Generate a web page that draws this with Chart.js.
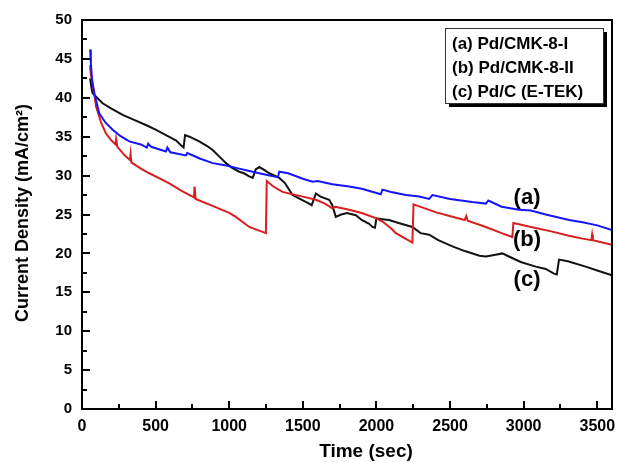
<!DOCTYPE html>
<html lang="en">
<head>
    <meta charset="UTF-8">
    <title>Current Density vs Time</title>
    <script src="https://cdn.jsdelivr.net/npm/chart.js"></script>
    <style>
        body { margin: 0; background: #fff; }
        #chartContainer { width: 617px; height: 462px; }
    </style>
</head>
<body>
    <div id="chartContainer">
        <canvas id="myChart" width="617" height="462"></canvas>
    </div>
    <script>
        // (a) Pd/CMK-8-I
        const timeA = [55, 60, 70, 85, 117, 160, 208, 260, 321, 400, 440, 450, 470, 570, 580, 600, 706, 715, 800, 887, 980, 1068, 1136, 1204, 1250, 1300, 1330, 1340, 1400, 1500, 1566, 1600, 1700, 1815, 1900, 2030, 2040, 2100, 2200, 2290, 2358, 2380, 2500, 2650, 2743, 2760, 2850, 2969, 3050, 3150, 3308, 3400, 3500, 3600];
        const densityA = [46.2, 44.5, 42.0, 40.5, 38.0, 36.8, 35.9, 35.1, 34.4, 34.0, 33.6, 34.1, 33.7, 33.1, 33.6, 33.0, 32.6, 32.9, 32.2, 31.6, 31.3, 30.9, 30.6, 30.3, 30.1, 29.9, 29.8, 30.5, 30.3, 29.6, 29.2, 29.3, 28.9, 28.6, 28.3, 27.6, 28.2, 27.9, 27.5, 27.3, 27.0, 27.5, 27.0, 26.6, 26.4, 26.8, 26.0, 25.6, 25.5, 25.0, 24.3, 24.0, 23.6, 23.0];

        // (b) Pd/CMK-8-II
        const timeB = [55, 60, 72, 95, 130, 163, 200, 228, 232, 240, 290, 325, 330, 335, 400, 457, 530, 593, 680, 760, 765, 772, 887, 1000, 1045, 1136, 1249, 1255, 1300, 1362, 1450, 1500, 1589, 1650, 1700, 1720, 1815, 1900, 2000, 2041, 2100, 2132, 2244, 2252, 2358, 2400, 2516, 2600, 2610, 2620, 2743, 2850, 2923, 2930, 3050, 3195, 3300, 3400, 3460, 3465, 3470, 3600];
        const densityB = [44.2, 43.0, 41.9, 38.9, 36.8, 35.4, 34.5, 34.0, 34.7, 33.7, 32.6, 32.0, 32.8, 31.7, 30.9, 30.3, 29.6, 29.0, 28.0, 27.2, 28.6, 27.0, 26.1, 25.2, 24.7, 23.4, 22.6, 29.3, 28.6, 27.9, 27.5, 27.3, 26.9, 26.4, 25.8, 26.0, 25.6, 25.2, 24.5, 24.1, 23.2, 22.6, 21.4, 26.3, 25.6, 25.3, 24.7, 24.3, 24.8, 24.2, 23.4, 22.6, 22.1, 23.9, 23.4, 22.8, 22.3, 21.9, 21.7, 22.4, 21.7, 21.1];

        // (c) Pd/C (E-TEK)
        const timeC = [55, 65, 72, 140, 200, 276, 350, 434, 500, 570, 640, 672, 690, 700, 730, 796, 850, 887, 930, 978, 1020, 1068, 1100, 1136, 1160, 1180, 1204, 1240, 1272, 1340, 1380, 1430, 1480, 1543, 1560, 1589, 1620, 1679, 1700, 1724, 1760, 1800, 1860, 1900, 1950, 1973, 1990, 2000, 2040, 2086, 2150, 2244, 2300, 2358, 2420, 2516, 2600, 2700, 2743, 2800, 2855, 2900, 2980, 3082, 3150, 3206, 3225, 3240, 3300, 3421, 3500, 3600];
        const densityC = [42.5, 41.2, 40.6, 39.3, 38.6, 37.8, 37.2, 36.5, 35.9, 35.2, 34.5, 33.9, 33.6, 35.2, 35.0, 34.4, 33.8, 33.3, 32.5, 31.6, 31.0, 30.5, 30.3, 29.9, 29.7, 30.8, 31.1, 30.7, 30.3, 29.7, 29.0, 27.5, 27.0, 26.4, 26.2, 27.7, 27.3, 26.9, 26.2, 24.7, 25.0, 25.2, 24.9, 24.3, 23.8, 23.4, 23.3, 24.5, 24.4, 24.3, 23.9, 23.4, 22.6, 22.4, 21.7, 20.9, 20.3, 19.7, 19.6, 19.8, 20.0, 19.6, 18.9, 18.3, 18.0, 17.4, 17.3, 19.2, 19.0, 18.3, 17.8, 17.2];

        const xTickValues = [0, 500, 1000, 1500, 2000, 2500, 3000, 3500];
        const yTickValues = [0, 5, 10, 15, 20, 25, 30, 35, 40, 45, 50];

        const seriesNames = ['(a) Pd/CMK-8-I', '(b) Pd/CMK-8-II', '(c) Pd/C (E-TEK)'];
        const curveTags = ['(a)', '(b)', '(c)'];
        const tagTimes = [3023, 3023, 3023];
        const tagValues = [27.1, 21.7, 16.6];

        const FONT = '"Liberation Sans", Arial, sans-serif';

        function toPoints(xs, ys) {
            return xs.map((x, i) => ({ x: x, y: ys[i] }));
        }

        // frame, inward ticks, legend box and curve tags
        const decorations = {
            id: 'decorations',
            afterDatasetsDraw(chart) {
                const ctx = chart.ctx;
                const ca = chart.chartArea;
                const xs = chart.scales.x;
                const ys = chart.scales.y;
                ctx.save();
                ctx.strokeStyle = '#000';
                ctx.lineWidth = 2;
                ctx.strokeRect(ca.left, ca.top, ca.right - ca.left, ca.bottom - ca.top);

                ctx.beginPath();
                for (let v = 0; v <= 3500; v += 250) {
                    const px = Math.round(xs.getPixelForValue(v));
                    const len = v % 500 === 0 ? 8 : 5;
                    ctx.moveTo(px, ca.bottom);
                    ctx.lineTo(px, ca.bottom - len);
                }
                for (let v = 0; v <= 50; v += 2.5) {
                    const py = Math.round(ys.getPixelForValue(v));
                    const len = v % 5 === 0 ? 8 : 5;
                    ctx.moveTo(ca.left, py);
                    ctx.lineTo(ca.left + len, py);
                }
                ctx.stroke();

                // legend box with drop shadow
                const bx = ca.right - 167, by = ca.top + 8, bw = 158, bh = 75;
                ctx.fillStyle = '#000';
                ctx.fillRect(bx + 4, by + 4, bw, bh);
                ctx.fillStyle = '#fff';
                ctx.fillRect(bx, by, bw, bh);
                ctx.lineWidth = 1;
                ctx.strokeStyle = '#333';
                ctx.strokeRect(bx + 0.5, by + 0.5, bw, bh);
                ctx.fillStyle = '#000';
                ctx.font = 'bold 17px ' + FONT;
                ctx.textAlign = 'left';
                ctx.textBaseline = 'middle';
                seriesNames.forEach((name, i) => {
                    ctx.fillText(name, bx + 7, by + 16 + i * 24);
                });

                // curve tags
                ctx.font = 'bold 22px ' + FONT;
                ctx.textAlign = 'center';
                curveTags.forEach((tag, i) => {
                    ctx.fillText(tag, xs.getPixelForValue(tagTimes[i]), ys.getPixelForValue(tagValues[i]));
                });

                // axis titles
                ctx.font = 'bold 19px ' + FONT;
                ctx.fillText('Time (sec)', 366, 452);
                ctx.translate(23, 213);
                ctx.rotate(-Math.PI / 2);
                ctx.font = 'bold 18px ' + FONT;
                ctx.fillText('Current Density (mA/cm²)', 0, 0);
                ctx.restore();
            }
        };

        const ctx = document.getElementById('myChart').getContext('2d');
        const myChart = new Chart(ctx, {
            type: 'line',
            data: {
                datasets: [{
                    label: seriesNames[0],
                    data: toPoints(timeA, densityA),
                    borderColor: '#1414ff'
                }, {
                    label: seriesNames[1],
                    data: toPoints(timeB, densityB),
                    borderColor: '#d81e1e'
                }, {
                    label: seriesNames[2],
                    data: toPoints(timeC, densityC),
                    borderColor: '#111111'
                }]
            },
            options: {
                responsive: false,
                animation: false,
                layout: { padding: { top: 20, right: 5, left: 0, bottom: 0 } },
                elements: {
                    point: { radius: 0 },
                    line: { borderWidth: 2, tension: 0 }
                },
                scales: {
                    x: {
                        type: 'linear',
                        min: 0,
                        max: 3600,
                        afterBuildTicks: s => { s.ticks = xTickValues.map(v => ({ value: v })); },
                        afterFit: s => { s.height = 53; s.paddingLeft = 0; s.paddingRight = 0; },
                        ticks: {
                            autoSkip: false,
                            padding: 8,
                            maxRotation: 0,
                            color: '#000',
                            font: { family: FONT, size: 16, weight: 'bold' },
                            callback: v => String(v)
                        },
                        grid: { display: false, drawTicks: false },
                        border: { display: false }
                    },
                    y: {
                        min: 0,
                        max: 50,
                        afterBuildTicks: s => { s.ticks = yTickValues.map(v => ({ value: v })); },
                        afterFit: s => { s.width = 82; s.paddingTop = 0; s.paddingBottom = 0; },
                        ticks: { padding: 10, color: '#000', font: { family: FONT, size: 15, weight: 'bold' } },
                        grid: { display: false, drawTicks: false },
                        border: { display: false }
                    }
                },
                plugins: {
                    legend: { display: false },
                    tooltip: { enabled: false }
                }
            },
            plugins: [decorations]
        });
    </script>
</body>
</html>
